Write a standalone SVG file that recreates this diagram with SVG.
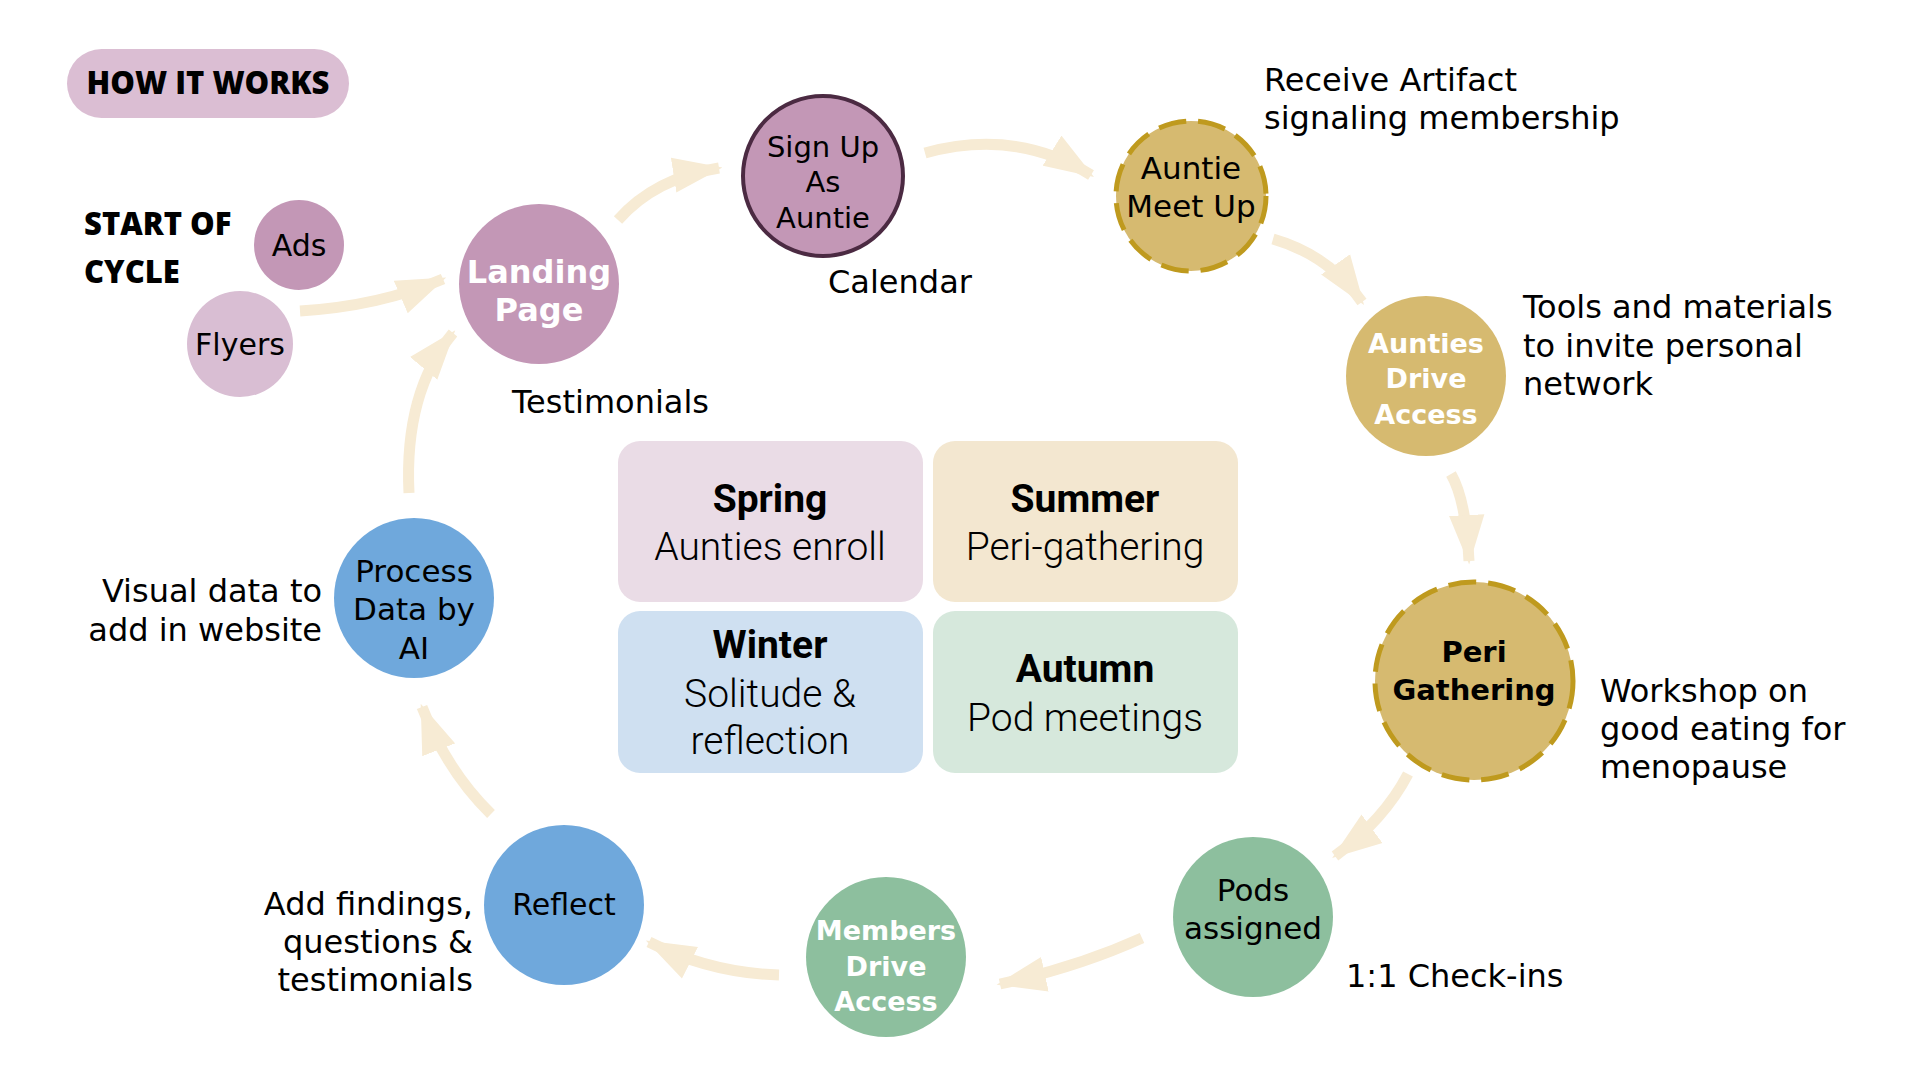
<svg xmlns="http://www.w3.org/2000/svg" width="1920" height="1080" viewBox="0 0 1920 1080">
<defs>
<style>
.t{font-family:"DejaVu Sans","Open Sans",sans-serif;font-size:32px;fill:#000;}
.n{font-family:"DejaVu Sans","Open Sans",sans-serif;font-size:30px;fill:#000;text-anchor:middle;}
.n29{font-size:29px;}
.n31{font-size:31px;}
.nb{font-family:"DejaVu Sans","Open Sans",sans-serif;font-size:27px;font-weight:700;fill:#fff;text-anchor:middle;}
.nb32{font-size:32px;}
.nk{font-family:"DejaVu Sans","Open Sans",sans-serif;font-size:29px;font-weight:700;fill:#000;text-anchor:middle;}
.sh{font-family:Roboto,"Liberation Sans",sans-serif;font-size:39px;font-weight:700;fill:#000;text-anchor:middle;}
.sl{font-family:Roboto,"Liberation Sans",sans-serif;font-size:39px;font-weight:300;fill:#000;text-anchor:middle;}
.c{fill:none;stroke:#F7EBD4;stroke-width:11;marker-end:url(#ah);}
.mauve{fill:#C397B6;}
.gold{fill:#D6BA70;}
.dash{stroke:#BF9A1E;stroke-width:5;stroke-dasharray:28 12;}
.green{fill:#8DBF9E;}
.blue{fill:#6FA8DC;}
</style>
<marker id="ah" viewBox="0 0 14 10" refX="13" refY="5" markerWidth="4.5" markerHeight="3.3" orient="auto" markerUnits="strokeWidth">
<path d="M0,0 L14,5 L0,10 Z" fill="#F7EBD4"/>
</marker>
</defs>
<rect width="1920" height="1080" fill="#fff"/>

<g id="title">
<rect x="67" y="49" width="282" height="69" rx="34.5" fill="#DBBED3"/>
<text x="208" y="94" font-family="Open Sans, Liberation Sans, sans-serif" font-size="31" font-weight="800" text-anchor="middle">HOW IT WORKS</text>
</g>

<g id="connectors">
<path class="c" d="M300,311 Q380,306 443,279"/>
<path class="c" d="M618,220 Q655,178 719,168"/>
<path class="c" d="M925,153 Q1016,128 1091,175"/>
<path class="c" d="M1273,239 Q1329,255 1362,302"/>
<path class="c" d="M1451,474 Q1466,500 1469,561"/>
<path class="c" d="M1408,774 Q1384,820 1335,856"/>
<path class="c" d="M1142,938 Q1078,967 1000,984"/>
<path class="c" d="M779,975 Q710,973 649,942"/>
<path class="c" d="M491,814 Q447,771 422,707"/>
<path class="c" d="M409,493 Q404,392 453,333"/>
</g>

<g id="start-label">
<text x="84" y="235" font-family="Open Sans, Liberation Sans, sans-serif" font-size="31" font-weight="800">START OF</text>
<text x="84" y="283" font-family="Open Sans, Liberation Sans, sans-serif" font-size="31" font-weight="800">CYCLE</text>
</g>

<g id="ads">
<circle cx="299" cy="245" r="45" class="mauve"/>
<text class="n" x="299" y="256">Ads</text>
</g>
<g id="flyers">
<circle cx="240" cy="344" r="53" fill="#D9BED3"/>
<text class="n" x="240" y="355">Flyers</text>
</g>
<g id="landing-page">
<circle cx="539" cy="284" r="80" class="mauve"/>
<text class="nb nb32" x="539" y="283">Landing</text>
<text class="nb nb32" x="539" y="321">Page</text>
</g>
<g id="sign-up">
<circle cx="823" cy="176" r="80" class="mauve" stroke="#4B2A42" stroke-width="4"/>
<text class="n n29" x="823" y="157">Sign Up</text>
<text class="n n29" x="823" y="192">As</text>
<text class="n n29" x="823" y="228">Auntie</text>
</g>
<g id="auntie-meet-up">
<circle cx="1191" cy="196" r="75" class="gold dash"/>
<text class="n n31" x="1191" y="179">Auntie</text>
<text class="n n31" x="1191" y="217">Meet Up</text>
</g>
<g id="aunties-drive-access">
<circle cx="1426" cy="376" r="80" class="gold"/>
<text class="nb" x="1426" y="353">Aunties</text>
<text class="nb" x="1426" y="388">Drive</text>
<text class="nb" x="1426" y="424">Access</text>
</g>
<g id="peri-gathering">
<circle cx="1474" cy="681" r="99" class="gold dash"/>
<text class="nk" x="1474" y="662">Peri</text>
<text class="nk" x="1474" y="700">Gathering</text>
</g>
<g id="pods-assigned">
<circle cx="1253" cy="917" r="80" class="green"/>
<text class="n n31" x="1253" y="901">Pods</text>
<text class="n n31" x="1253" y="939">assigned</text>
</g>
<g id="members-drive-access">
<circle cx="886" cy="957" r="80" class="green"/>
<text class="nb" x="886" y="940">Members</text>
<text class="nb" x="886" y="976">Drive</text>
<text class="nb" x="886" y="1011">Access</text>
</g>
<g id="reflect">
<circle cx="564" cy="905" r="80" class="blue"/>
<text class="n" x="564" y="915">Reflect</text>
</g>
<g id="process-data">
<circle cx="414" cy="598" r="80" class="blue"/>
<text class="n n31" x="414" y="582">Process</text>
<text class="n n31" x="414" y="620">Data by</text>
<text class="n n31" x="414" y="659">AI</text>
</g>

<g id="seasons">
<g id="spring">
<rect x="618" y="441" width="305" height="161" rx="22" fill="#EADCE6"/>
<text class="sh" x="770" y="512">Spring</text>
<text class="sl" x="770" y="560">Aunties enroll</text>
</g>
<g id="summer">
<rect x="933" y="441" width="305" height="161" rx="22" fill="#F3E7D0"/>
<text class="sh" x="1085" y="512">Summer</text>
<text class="sl" x="1085" y="560">Peri-gathering</text>
</g>
<g id="winter">
<rect x="618" y="611" width="305" height="162" rx="22" fill="#CFE0F1"/>
<text class="sh" x="770" y="658">Winter</text>
<text class="sl" x="770" y="707">Solitude &amp;</text>
<text class="sl" x="770" y="754">reflection</text>
</g>
<g id="autumn">
<rect x="933" y="611" width="305" height="162" rx="22" fill="#D6E8DC"/>
<text class="sh" x="1085" y="682">Autumn</text>
<text class="sl" x="1085" y="731">Pod meetings</text>
</g>
</g>

<g id="labels">
<text class="t" x="1264" y="91">Receive Artifact</text>
<text class="t" x="1264" y="129">signaling membership</text>
<text class="t" x="828" y="293">Calendar</text>
<text class="t" x="512" y="413">Testimonials</text>
<text class="t" x="1523" y="318">Tools and materials</text>
<text class="t" x="1523" y="357">to invite personal</text>
<text class="t" x="1523" y="395">network</text>
<text class="t" x="1600" y="702">Workshop on</text>
<text class="t" x="1600" y="740">good eating for</text>
<text class="t" x="1600" y="778">menopause</text>
<text class="t" x="1346" y="987">1:1 Check-ins</text>
<text class="t" x="322" y="602" text-anchor="end">Visual data to</text>
<text class="t" x="322" y="641" text-anchor="end">add in website</text>
<text class="t" x="473" y="915" text-anchor="end">Add findings,</text>
<text class="t" x="473" y="953" text-anchor="end">questions &amp;</text>
<text class="t" x="473" y="991" text-anchor="end">testimonials</text>
</g>
</svg>
